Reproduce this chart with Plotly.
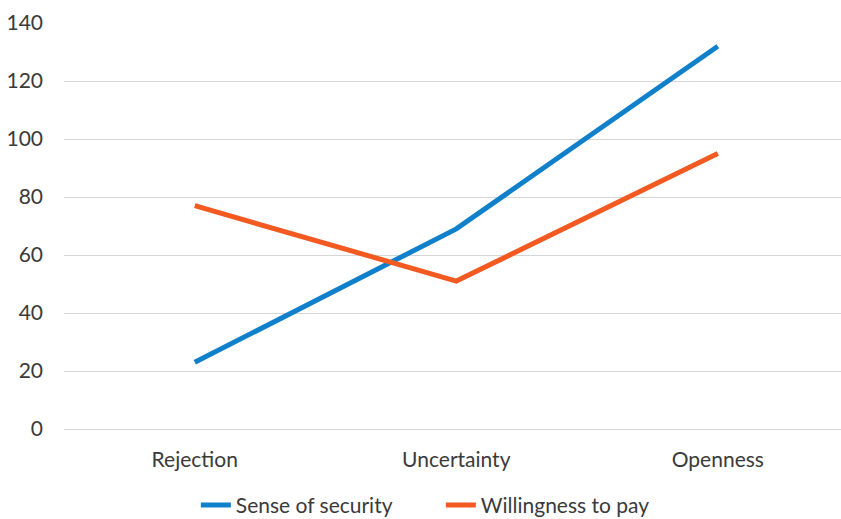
import plotly.graph_objects as go

categories = ["Rejection", "Uncertainty", "Openness"]
sense_of_security = [23, 69, 132]
willingness_to_pay = [77, 51, 95]
y_ticks = [0, 20, 40, 60, 80, 100, 120, 140]

BLUE = "#1180CB"
ORANGE = "#F25A22"
TEXT = "#3a3a3a"
GRID = "#d6d6d6"
FONT = "Lato, 'Open Sans', sans-serif"

fig = go.Figure()
fig.add_trace(go.Scatter(
    x=categories, y=sense_of_security, mode="lines",
    name="Sense of security",
    line=dict(color=BLUE, width=5),
))
fig.add_trace(go.Scatter(
    x=categories, y=willingness_to_pay, mode="lines",
    name="Willingness to pay",
    line=dict(color=ORANGE, width=5),
))

fig.update_layout(
    width=841, height=519,
    margin=dict(l=64, r=0, t=23, b=90, autoexpand=False),
    paper_bgcolor="white", plot_bgcolor="white",
    font=dict(family=FONT, size=21, color=TEXT),
    showlegend=True,
    legend=dict(
        orientation="h", x=0.485, xanchor="center",
        y=-0.188, yanchor="middle",
        font=dict(family=FONT, size=21, color=TEXT),
        entrywidth=200, entrywidthmode="pixels",
        tracegroupgap=0,
    ),
)
fig.update_xaxes(
    type="category", range=[-0.5, 2.471],
    showgrid=False, showline=False, zeroline=False,
    ticks="outside", ticklen=12, tickcolor="rgba(0,0,0,0)",
    tickfont=dict(family=FONT, size=21, color=TEXT),
)
fig.update_yaxes(
    range=[0, 140], tickvals=y_ticks,
    showgrid=True, gridcolor=GRID, gridwidth=1.3,
    zeroline=True, zerolinecolor=GRID, zerolinewidth=1.3,
    showline=False,
    ticklabelstandoff=20,
    tickfont=dict(family=FONT, size=21, color=TEXT),
)

fig.write_html("out.html")
